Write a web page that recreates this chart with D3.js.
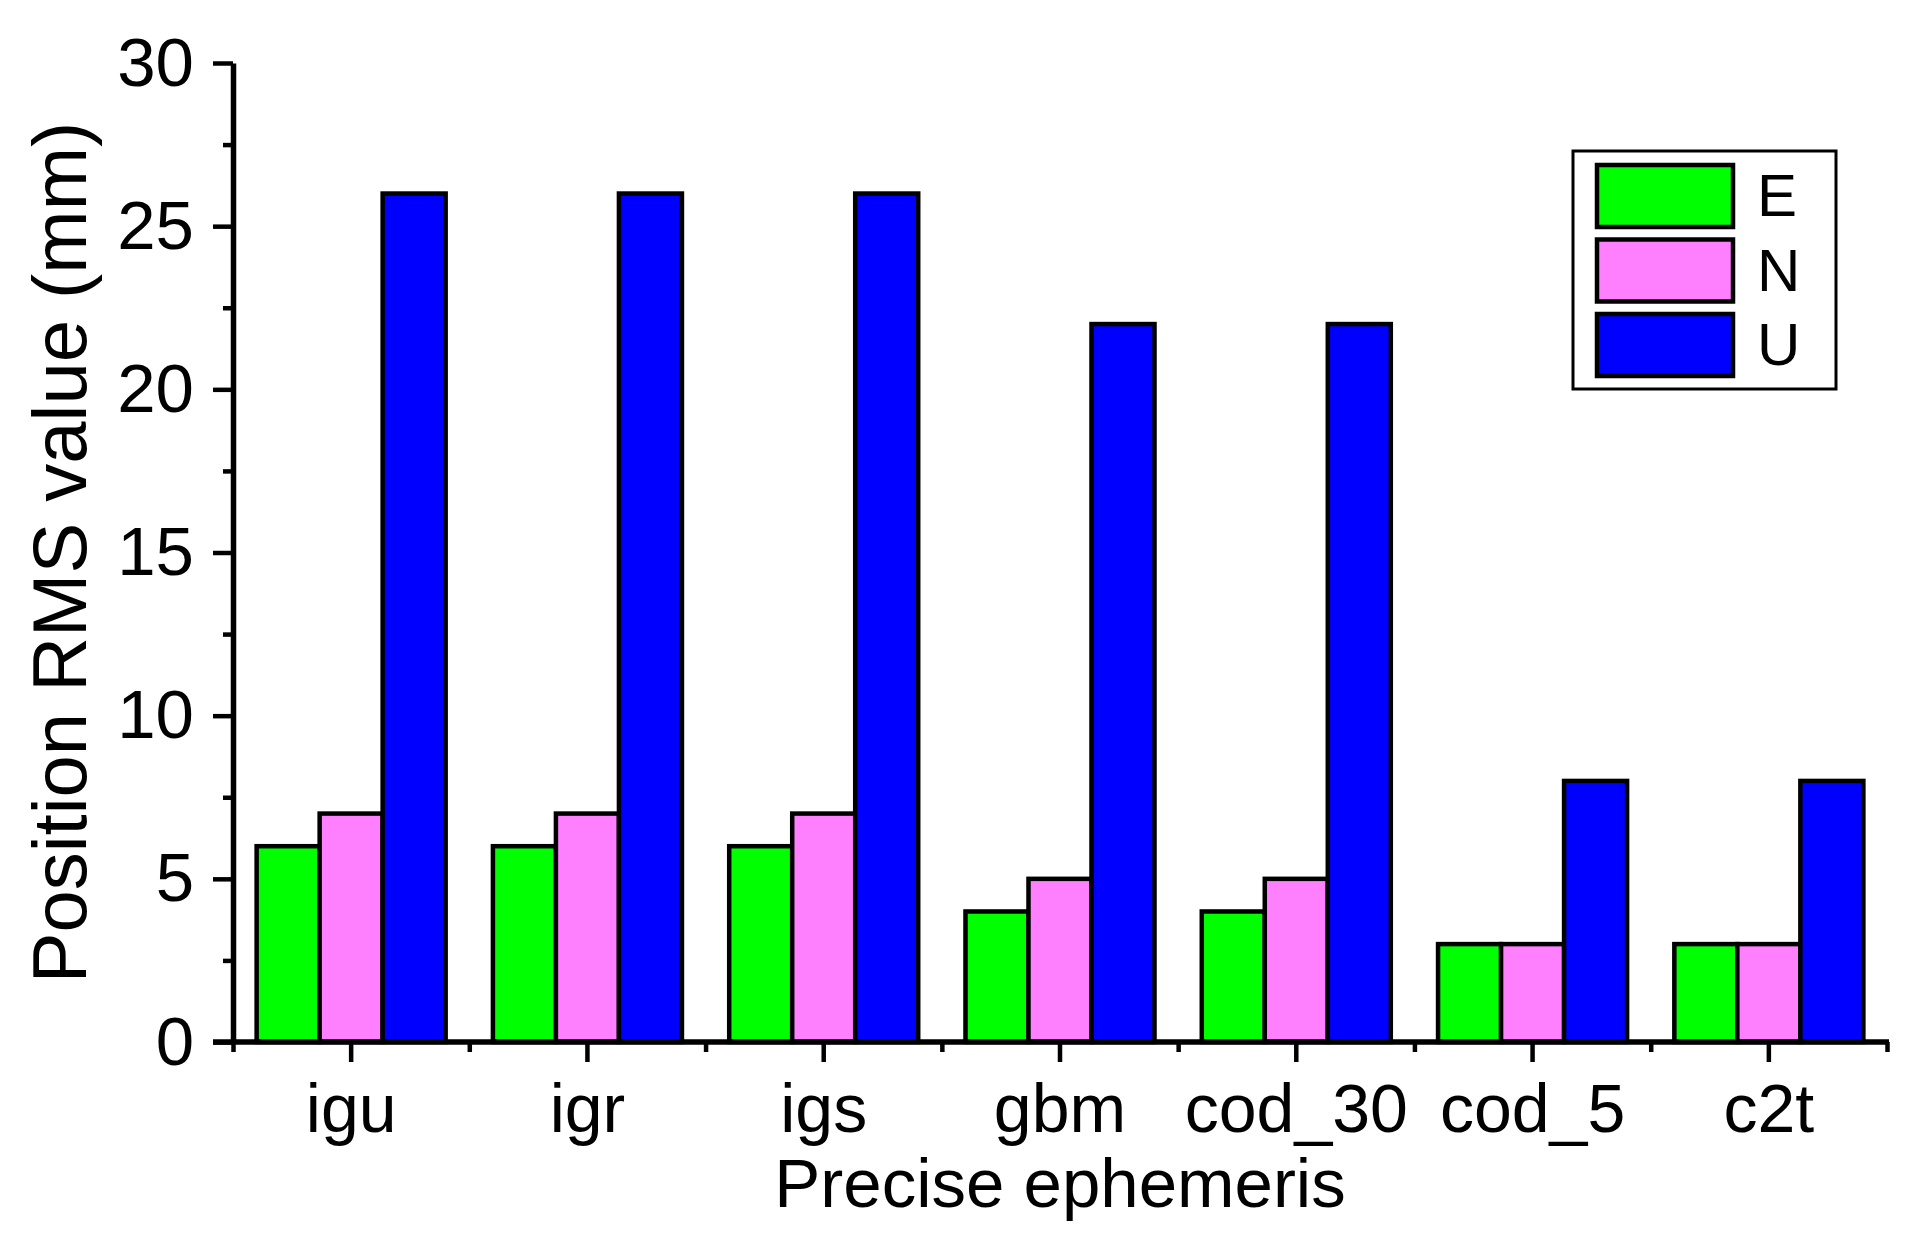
<!DOCTYPE html>
<html>
<head>
<meta charset="utf-8">
<script src="https://cdn.jsdelivr.net/npm/d3@7/dist/d3.min.js"></script>
<style>
  body { margin: 0; background: #fff; }
  text { font-family: "Liberation Sans", Arial, sans-serif; fill: #000; }
</style>
</head>
<body>
<script>
var categories = ["igu", "igr", "igs", "gbm", "cod_30", "cod_5", "c2t"];
var seriesNames = ["E", "N", "U"];
var eValues = [6, 6, 6, 4, 4, 3, 3];
var nValues = [7, 7, 7, 5, 5, 3, 3];
var uValues = [26, 26, 26, 22, 22, 8, 8];
var yTicks = [0, 5, 10, 15, 20, 25, 30];
var colors = ["#00ff00", "#ff80ff", "#0000ff"];

var svgWidth = 1914;
var svgHeight = 1248;
var plotLeft = 233, plotRight = 1887, plotTop = 63, plotBottom = 1042;

var svg = d3.select("body")
  .append("svg")
  .attr("width", svgWidth)
  .attr("height", svgHeight);

var x0 = d3.scaleBand()
  .domain(categories)
  .range([plotLeft, plotRight])
  .paddingInner(0.2)
  .paddingOuter(0.1);

var x1 = d3.scaleBand()
  .domain(seriesNames)
  .range([0, x0.bandwidth()]);

var y = d3.scaleLinear()
  .domain([0, 30])
  .range([plotBottom, plotTop]);

var values = [eValues, nValues, uValues];

// bars
categories.forEach(function(cat, i) {
  var g = svg.append("g").attr("transform", "translate(" + x0(cat) + ",0)");
  seriesNames.forEach(function(s, j) {
    g.append("rect")
      .attr("x", x1(s))
      .attr("y", y(values[j][i]))
      .attr("width", x1.bandwidth())
      .attr("height", y(0) - y(values[j][i]))
      .attr("fill", colors[j])
      .attr("stroke", "#000")
      .attr("stroke-width", 4.5);
  });
});

// y axis
var minorY = d3.range(2.5, 30, 5);
svg.append("g")
  .attr("transform", "translate(" + plotLeft + ",0)")
  .call(d3.axisLeft(y).tickValues(minorY).tickSize(10).tickFormat(""))
  .call(function(g) { g.select(".domain").remove(); })
  .selectAll("line").attr("stroke-width", 4.5);

var yAxis = svg.append("g")
  .attr("transform", "translate(" + plotLeft + ",0)")
  .call(d3.axisLeft(y).tickValues(yTicks).tickSize(20).tickPadding(19).tickSizeOuter(0));
yAxis.select(".domain").attr("stroke-width", 5.5);
yAxis.selectAll("line").attr("stroke-width", 4.5);
yAxis.selectAll("text").attr("font-size", 69).attr("font-family", "Liberation Sans, Arial, sans-serif");

// x axis
var xMinor = d3.scaleLinear().domain([0, categories.length]).range([plotLeft, plotRight]);
svg.append("g")
  .attr("transform", "translate(0," + plotBottom + ")")
  .call(d3.axisBottom(xMinor).tickValues(d3.range(0, categories.length + 1)).tickSize(10).tickFormat(""))
  .call(function(g) { g.select(".domain").remove(); })
  .selectAll("line").attr("stroke-width", 4.5);

var xAxis = svg.append("g")
  .attr("transform", "translate(0," + plotBottom + ")")
  .call(d3.axisBottom(x0).tickSize(20).tickPadding(22).tickSizeOuter(0));
xAxis.select(".domain").attr("stroke-width", 5.5).attr("d", "M" + (plotLeft - 20) + ",0H" + (plotRight + 2));
xAxis.selectAll("line").attr("stroke-width", 4.5);
xAxis.selectAll("text").attr("font-size", 68).attr("font-family", "Liberation Sans, Arial, sans-serif");

// axis titles
svg.append("text")
  .attr("x", (plotLeft + plotRight) / 2)
  .attr("y", 1207)
  .attr("text-anchor", "middle")
  .attr("font-size", 69)
  .text("Precise ephemeris");

svg.append("text")
  .attr("transform", "translate(86," + (plotTop + plotBottom) / 2 + ") rotate(-90)")
  .attr("text-anchor", "middle")
  .attr("font-size", 76)
  .text("Position RMS value (mm)");

// legend
var legend = svg.append("g");
legend.append("rect")
  .attr("x", 1573).attr("y", 151)
  .attr("width", 263).attr("height", 238)
  .attr("fill", "#fff").attr("stroke", "#000").attr("stroke-width", 3);

seriesNames.forEach(function(s, j) {
  legend.append("rect")
    .attr("x", 1597).attr("y", 165 + j * 74.5)
    .attr("width", 136).attr("height", 62)
    .attr("fill", colors[j]).attr("stroke", "#000").attr("stroke-width", 4.5);
  legend.append("text")
    .attr("x", 1757).attr("y", 216 + j * 74.5)
    .attr("font-size", 60)
    .text(s);
});
</script>
</body>
</html>
